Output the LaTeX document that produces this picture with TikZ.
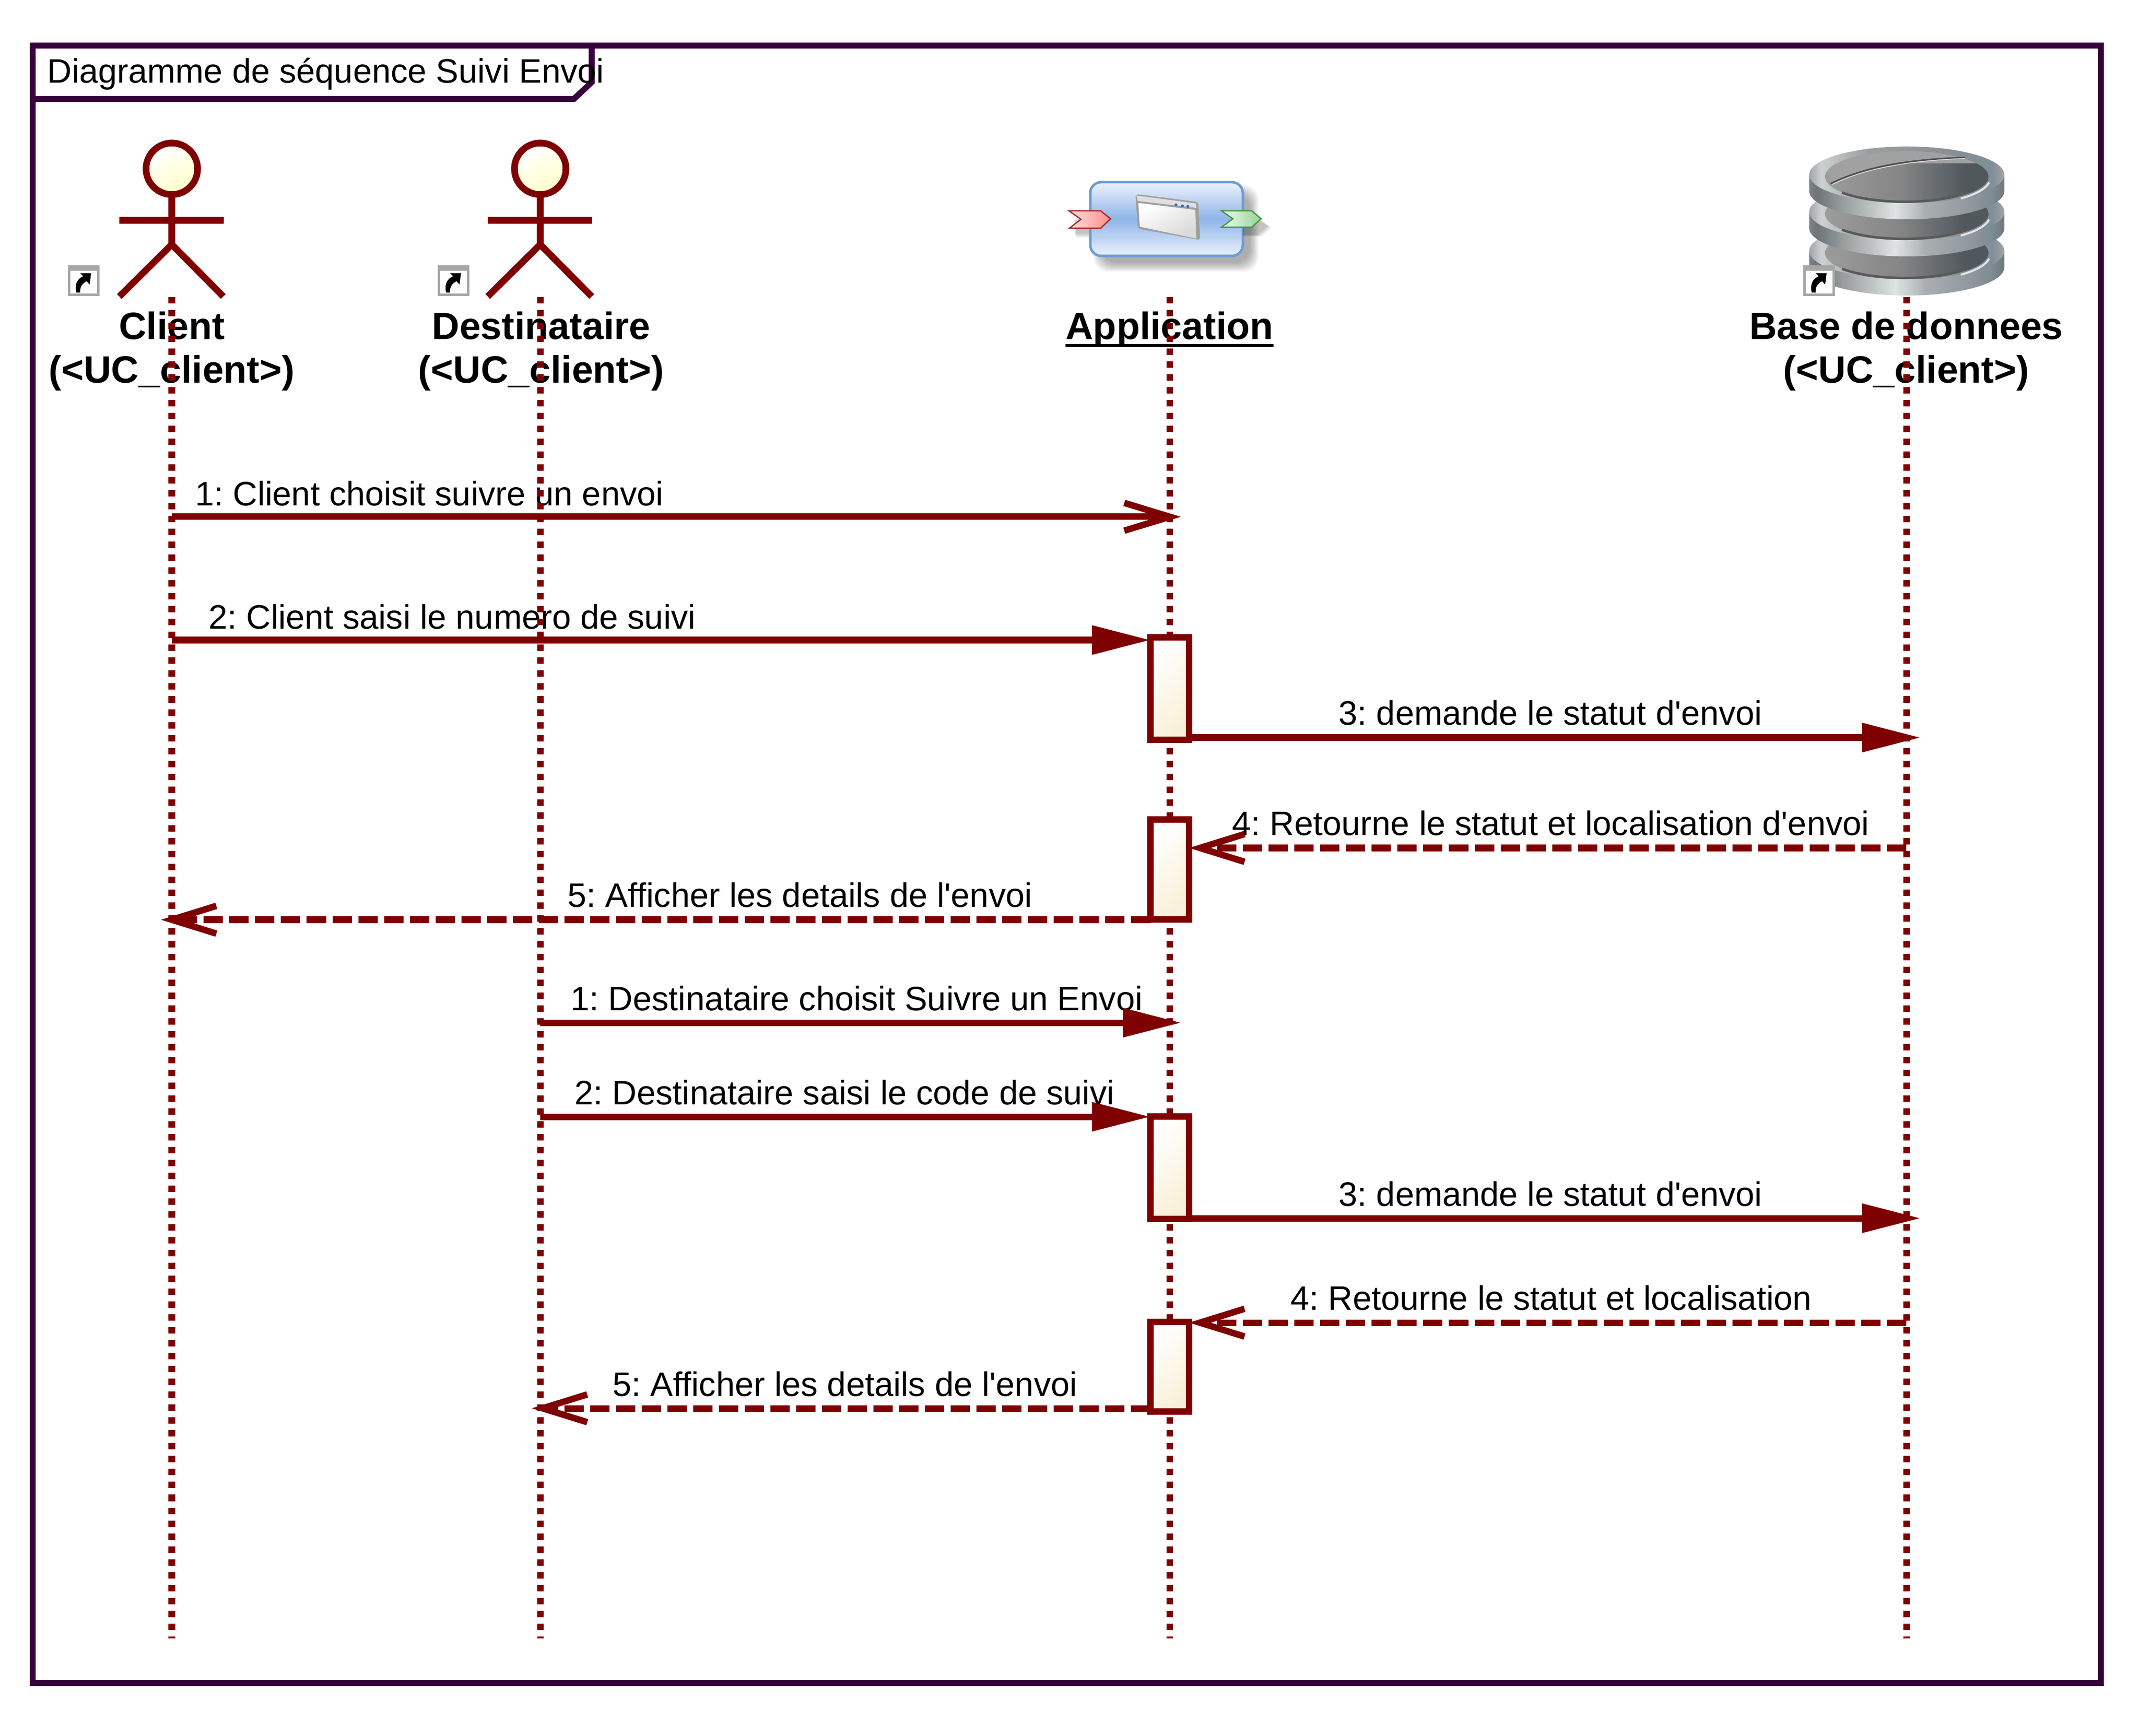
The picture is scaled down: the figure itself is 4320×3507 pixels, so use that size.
\documentclass[tikz,border=0pt]{standalone}
\usepackage{fontspec}
\setmainfont{Liberation Sans}[Ligatures=TeXOff]
\usetikzlibrary{arrows.meta,shapes.geometric}
\definecolor{framec}{HTML}{38003C}
\definecolor{umlred}{HTML}{7F0000}
\definecolor{actfill}{HTML}{FAF0D7}
\definecolor{headfill}{HTML}{FFFFCC}
\definecolor{apptop}{HTML}{EDF3FC}
\definecolor{appmid}{HTML}{8FB5E8}
\definecolor{appbot}{HTML}{EAF2FC}
\definecolor{appline}{HTML}{6C9BD6}
\definecolor{sa}{HTML}{7C8285}\definecolor{sb}{HTML}{6F7477}\definecolor{sc}{HTML}{9A9E9F}
\definecolor{sd}{HTML}{DFE3E4}\definecolor{se}{HTML}{A9AEB0}\definecolor{sf}{HTML}{8A959A}
\definecolor{sg}{HTML}{7C8A92}\definecolor{sh}{HTML}{6D777C}
\definecolor{ra}{HTML}{A0A4A6}\definecolor{rb}{HTML}{CDD0D1}\definecolor{rc}{HTML}{9A9FA1}
\definecolor{rd}{HTML}{8A9094}\definecolor{re}{HTML}{7F8F98}
\definecolor{fa}{HTML}{9C9C9C}\definecolor{fb}{HTML}{858585}\definecolor{fc}{HTML}{50585C}
\pgfdeclarehorizontalshading{dbside}{100bp}{
 color(0bp)=(sa);color(25bp)=(sa);color(27bp)=(sb);color(34bp)=(sc);color(47bp)=(sd);color(55bp)=(se);color(68bp)=(sf);color(72bp)=(sg);color(75bp)=(sh);color(100bp)=(sh)}
\pgfdeclarehorizontalshading{dbring}{100bp}{
 color(0bp)=(ra);color(25bp)=(ra);color(28bp)=(rb);color(40bp)=(rc);color(60bp)=(rd);color(72bp)=(re);color(75bp)=(ra);color(100bp)=(ra)}
\pgfdeclarehorizontalshading{dbface}{100bp}{
 color(0bp)=(fa);color(25bp)=(fa);color(48bp)=(fb);color(68bp)=(fc);color(75bp)=(fc);color(100bp)=(fc)}
\pgfdeclareverticalshading{appback}{100bp}{
 color(0bp)=(appbot);color(25bp)=(appbot);color(50bp)=(appmid);color(75bp)=(apptop);color(100bp)=(apptop)}
\tikzset{
 frameline/.style={draw=framec,line width=.12cm,line join=miter},
 figure/.style={draw=umlred,line width=.135cm},
 lifeline/.style={draw=umlred,line width=.13cm,dash pattern=on .13cm off .13cm},
 actbox/.style={draw=umlred,line width=.13cm,rectangle,outer sep=0pt,inner sep=0pt,minimum width=.78cm,top color=white,bottom color=actfill,shading angle=45},
 msgtext/.style={anchor=base west,inner sep=0pt,font=\fontsize{19.5pt}{23pt}\selectfont\frenchspacing},
 nametext/.style={anchor=base,inner sep=0pt,align=center,font=\fontsize{21.9pt}{25pt}\bfseries\selectfont},
 call/.style={draw=umlred,line width=.13cm,-{Triangle[length=1.18cm,width=.56cm]}},
 openmsg/.style={draw=umlred,line width=.13cm,-{Straight Barb[length=.92cm,width=.56cm]}},
 reply/.style={draw=umlred,line width=.13cm,dash pattern=on .39cm off .13cm,-{Straight Barb[length=.9cm,width=.56cm]}},
 shortcuticon/.pic={
  \fill[gray!70] (-32,-31) rectangle (32,31);
  \fill[white] (-27,-20) rectangle (27,26);
  \fill[black] (-15,24) .. controls (-19,6) and (-12,-4) .. (-1,-9) -- (-7,-15) -- (15,-15) -- (12,8) -- (6,1) .. controls (-3,6) and (-8,12) .. (-7,24) -- cycle;
 }
}
\newcommand{\dbdisk}[2]{%
 \shade[shading=dbside] (3654,#1) -- (3654,#2) arc[start angle=180,end angle=0,x radius=197,y radius=57] -- (4048,#1) -- cycle;
 \shade[shading=dbring] (3851,#1) ellipse[x radius=197,y radius=57];
 \shade[shading=dbface] (3851,#1+4) ellipse[x radius=165,y radius=52];
 \draw[black!65,line width=.05cm] (3720,#1+36) arc[start angle=140,end angle=40,x radius=165,y radius=52];
 \draw[white!80!gray,line width=.04cm] (3960,#1+48) arc[start angle=48,end angle=8,x radius=178,y radius=54];
}
\newcommand{\stickman}[1]{%
 \draw[figure,fill=headfill] (#1,341) circle[radius=52];
 \shade[top color=white,bottom color=headfill,shading angle=25] (#1,341) circle[radius=45];
 \draw[figure] (#1,393) -- (#1,494);
 \draw[figure] (#1-106,445) -- (#1+105,445);
 \draw[figure] (#1-106,599) -- (#1,494) -- (#1+104,599);
}
\begin{document}
\begin{tikzpicture}[x=.01cm,y=-.01cm]
\useasboundingbox (0,0) rectangle (4320,3507);
\fill[white] (0,0) rectangle (4320,3507);
% frame
\draw[frameline] (66,92) rectangle (4243,3400);
\draw[frameline] (66,200) -- (1159,200) -- (1195,166) -- (1195,92);
\node[msgtext] (title) at (95,168) {Diagramme de séquence Suivi Envoi};
% actors
\stickman{347}
\stickman{1091}
\pic at (169,567) {shortcuticon};
\pic at (916,567) {shortcuticon};
% application icon
\foreach \i in {0,...,9}
 \fill[black,opacity=.035,rounded corners=.3cm] (2212-\i*2+14,378-\i*2+14) rectangle (2510+\i*2+14,517+\i*2+14);
\shade[shading=appback,draw=appline,line width=.05cm,rounded corners=.22cm] (2202,368) rectangle (2510,517);
\foreach \i in {0,...,4}
 \fill[black,opacity=.05] (2170+\i,440+\i*2) rectangle (2200,472+\i*2);
\foreach \i in {0,...,4}
 \fill[black,opacity=.05] (2510,440+\i*2) -- (2540+\i*2,440+\i*2) -- (2560+\i*2,456+\i) -- (2540+\i*2,474+\i) -- (2510,474+\i) -- cycle;
\shade[left color=red!12!white,right color=red!45!white,draw=red!60!black!85,line width=.025cm] (2159,426) -- (2223,426) -- (2243,442) -- (2223,461) -- (2160,461) -- (2183,443) -- cycle;
\shade[left color=green!8!white,right color=green!55!black!40!white,draw=green!45!black!75,line width=.025cm] (2467,426) -- (2528,426) -- (2547,442) -- (2528,459) -- (2467,459) -- (2490,442) -- cycle;
\fill[gray!75,rounded corners=.06cm] (2293,392) -- (2420,408) -- (2424,485) -- (2298,462) -- cycle;
\shade[top color=white,bottom color=gray!30,shading angle=30] (2299,410) -- (2414,424) -- (2416,482) -- (2302,458) -- cycle;
\fill[gray!25] (2295,395) -- (2416,411) -- (2416,420) -- (2298,406) -- cycle;
\fill[blue!60!cyan!70!gray] (2375,414) circle[radius=3] (2388,416) circle[radius=3] (2399,417) circle[radius=3];
% database icon
\dbdisk{507}{540}
\dbdisk{428}{461}
\dbdisk{353}{386}
\begin{scope}
\clip (3851,357) ellipse[x radius=165,y radius=52];
\fill[gray!60!white!90!black] (3680,300) rectangle (4020,330) (3680,300) -- (3697,371) .. controls (3770,335) and (3860,322) .. (3968,318) -- (4020,300) -- cycle;
\end{scope}
\draw[black!70,line width=.03cm] (3697,371) .. controls (3770,335) and (3860,322) .. (3968,318);
\draw[white!75!gray,line width=.015cm] (3700,373) .. controls (3770,338) and (3860,325) .. (3968,320);
\pic at (3674,567) {shortcuticon};
% participant names
\node[nametext] (nclient) at (347,686) {Client};
\node[nametext] (nclient2) at (347,774) {(<UC\_client>)};
\node[nametext] (ndest) at (1093,686) {Destinataire};
\node[nametext] (ndest2) at (1093,774) {(<UC\_client>)};
\node[nametext] (napp) at (2362,686) {\setbox0\hbox{Application}\rlap{\rule[-4.4pt]{\wd0}{1.9pt}}\box0};
\node[nametext] (ndb) at (3850,686) {Base de donnees};
\node[nametext] (ndb2) at (3850,774) {(<UC\_client>)};
% message labels
\node[msgtext] (t1) at (394,1022) {1: Client choisit suivre un envoi};
\node[msgtext] (t2) at (421,1271) {2: Client saisi le numero de suivi};
\node[msgtext] (t3) at (2703,1465) {3: demande le statut d'envoi};
\node[msgtext] (t4) at (2488,1687) {4: Retourne le statut et localisation d'envoi};
\node[msgtext] (t5) at (1146,1832) {5: Afficher les details de l'envoi};
\node[msgtext] (t6) at (1152,2041) {1: Destinataire choisit Suivre un Envoi};
\node[msgtext] (t7) at (1160,2231) {2: Destinataire saisi le code de suivi};
\node[msgtext] (t8) at (2703,2436) {3: demande le statut d'envoi};
\node[msgtext] (t9) at (2606,2646) {4: Retourne le statut et localisation};
\node[msgtext] (t10) at (1237,2820) {5: Afficher les details de l'envoi};
% lifelines
\coordinate (client) at (347,600); \coordinate (clientend) at (347,3310);
\coordinate (dest) at (1091,600); \coordinate (destend) at (1091,3310);
\coordinate (app) at (2362,600); \coordinate (append) at (2362,3310);
\coordinate (db) at (3850,600); \coordinate (dbend) at (3850,3310);
\draw[lifeline] (client) -- (clientend);
\draw[lifeline] (dest) -- (destend);
\draw[lifeline] (app) -- (append);
\draw[lifeline] (db) -- (dbend);
% activations
\node[actbox,minimum height=2.07cm] (a1) at (2362.5,1391) {};
\node[actbox,minimum height=2.02cm] (a2) at (2362.5,1756.5) {};
\node[actbox,minimum height=2.07cm] (a3) at (2362.5,2359) {};
\node[actbox,minimum height=1.81cm] (a4) at (2362.5,2761) {};
% rows
\coordinate (r1) at (0,1044); \coordinate (r2) at (0,1293); \coordinate (r3) at (0,1490);
\coordinate (r4) at (0,1713); \coordinate (r5) at (0,1858); \coordinate (r6) at (0,2066);
\coordinate (r7) at (0,2256); \coordinate (r8) at (0,2461); \coordinate (r9) at (0,2672);
\coordinate (r10) at (0,2845);
\coordinate (e1) at (2385,1044); \coordinate (e3) at (3879,1490); \coordinate (e5) at (325,1858);
\coordinate (e6) at (2386,2066); \coordinate (e8) at (3879,2461); \coordinate (e10) at (1074,2845);
% messages
\draw[openmsg] (client |- r1) -- (e1);
\draw[call] (client |- r2) -- (a1.west |- r2);
\draw[call] (a1.east |- r3) -- (e3);
\draw[reply] (db |- r4) -- (a2.east |- r4);
\draw[reply] (a2.west |- r5) -- (e5);
\draw[call] (dest |- r6) -- (e6);
\draw[call] (dest |- r7) -- (a3.west |- r7);
\draw[call] (a3.east |- r8) -- (e8);
\draw[reply] (db |- r9) -- (a4.east |- r9);
\draw[reply] (a4.west |- r10) -- (e10);
\end{tikzpicture}
\end{document}
